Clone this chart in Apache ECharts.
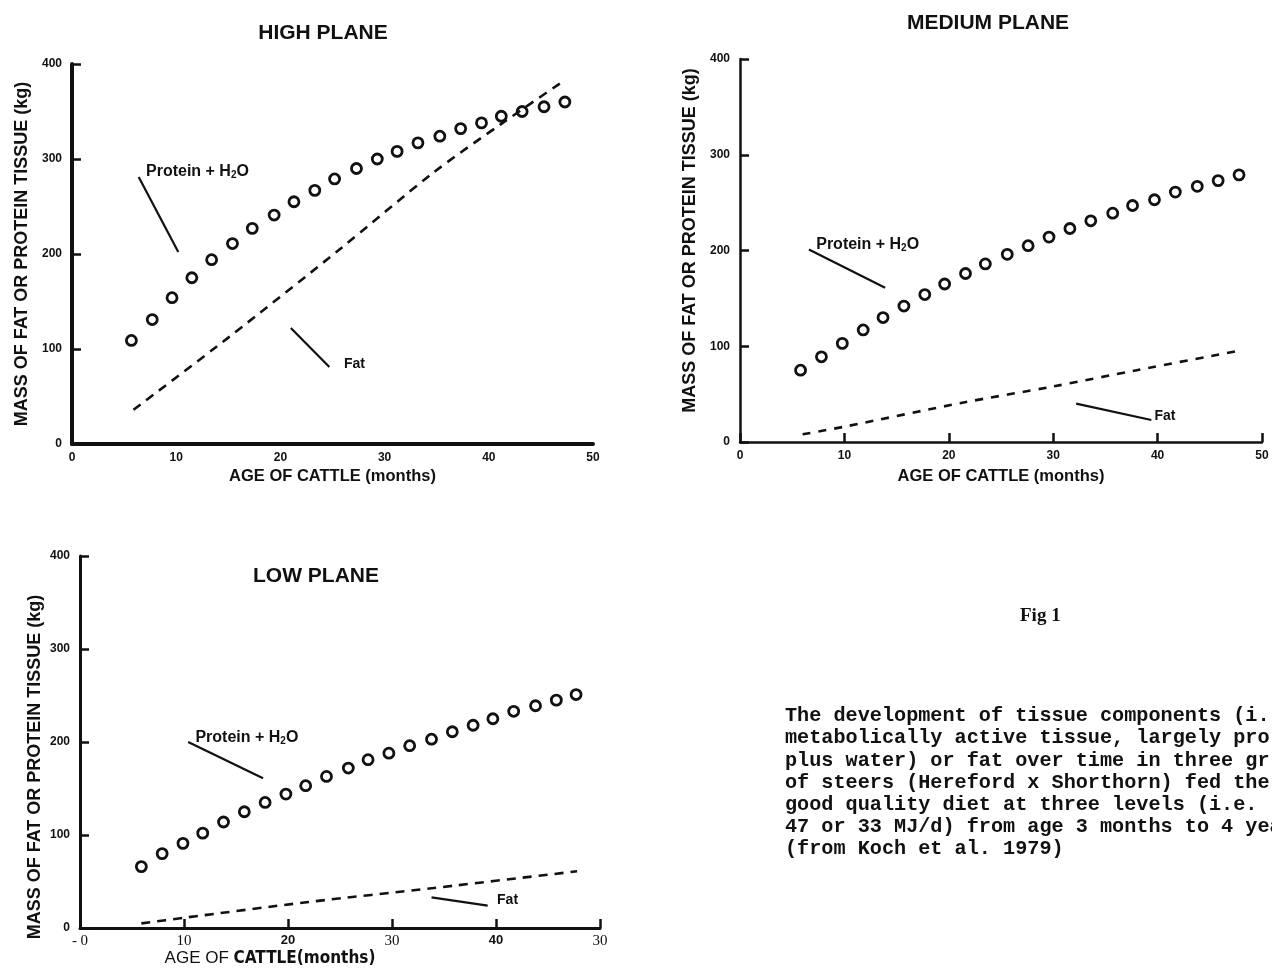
<!DOCTYPE html>
<html>
<head>
<meta charset="utf-8">
<script src="https://cdn.jsdelivr.net/npm/echarts@6/dist/echarts.min.js"></script>
<style>html,body{margin:0;padding:0;background:#fff;}#c{width:1272px;height:971px;}</style>
</head>
<body>
<div id="c"></div>
<script>
// ---- tick labels ----
const xTicks = [0, 10, 20, 30, 40, 50];
const yTicks = [0, 100, 200, 300, 400];
const lowXTickLabels = ['- 0', '10', '20', '30', '40', '30'];
const lowXTickStyle = ['s', 's', 'b', 's', 'b', 's'];

// ---- HIGH PLANE ----
const highProteinX = [5.7, 7.7, 9.6, 11.5, 13.4, 15.4, 17.3, 19.4, 21.3, 23.3, 25.2, 27.3, 29.3, 31.2, 33.2, 35.3, 37.3, 39.3, 41.2, 43.2, 45.3, 47.3];
const highProteinY = [109, 131, 154, 175, 194, 211, 227, 241, 255, 267, 279, 290, 300, 308, 317, 324, 332, 338, 345, 350, 355, 360];
const highFatX = [5.9, 15, 25.7, 34.6, 41.2, 47.3];
const highFatY = [36, 112, 205, 285, 337, 383];

// ---- MEDIUM PLANE ----
const medProteinX = [5.8, 7.8, 9.8, 11.8, 13.7, 15.7, 17.7, 19.6, 21.6, 23.5, 25.6, 27.6, 29.6, 31.6, 33.6, 35.7, 37.6, 39.7, 41.7, 43.8, 45.8, 47.8];
const medProteinY = [75, 89, 103, 117, 130, 142, 154, 165, 176, 186, 196, 205, 214, 223, 231, 239, 247, 253, 261, 267, 273, 279];
const medFatX = [6, 10, 21.3, 30, 38, 47.6];
const medFatY = [8, 16, 41, 58, 75, 95];

// ---- LOW PLANE ----
const lowProteinX = [5.9, 7.9, 9.9, 11.8, 13.8, 15.8, 17.8, 19.8, 21.7, 23.7, 25.8, 27.7, 29.7, 31.7, 33.8, 35.8, 37.8, 39.7, 41.7, 43.8, 45.8, 47.7];
const lowProteinY = [66, 80, 91, 102, 114, 125, 135, 144, 153, 163, 172, 181, 188, 196, 203, 211, 218, 225, 233, 239, 245, 251];
const lowFatX = [5.9, 10, 22, 34, 47.8];
const lowFatY = [5, 11, 28, 43, 61];

// ---- texts ----
const panelTitles = ['HIGH PLANE', 'MEDIUM PLANE', 'LOW PLANE'];
const yName = 'MASS OF FAT OR PROTEIN TISSUE (kg)';
const xName = 'AGE OF CATTLE (months)';
const figLabel = 'Fig 1';
const captionLines = [
  'The development of tissue components (i.',
  'metabolically active tissue, largely pro',
  'plus water) or fat over time in three gr',
  'of steers (Hereford x Shorthorn) fed the',
  'good quality diet at three levels (i.e.',
  '47 or 33 MJ/d) from age 3 months to 4 yea',
  '(from Koch et al. 1979)'
];

// ---- annotations (data coordinates: label anchor, leader start, leader end) ----
const annotations = [
  {g: 0, text: 'protein', at: [7.1, 287], line: [[6.4, 281], [10.2, 202]]},
  {g: 0, text: 'fat', at: [26.1, 84], line: [[21, 122], [24.7, 81]]},
  {g: 1, text: 'protein', at: [7.3, 206], line: [[6.6, 201], [13.9, 161]]},
  {g: 1, text: 'fat', at: [39.7, 27], line: [[32.2, 40], [39.4, 23]]},
  {g: 2, text: 'protein', at: [11.1, 205], line: [[10.4, 200], [17.6, 161]]},
  {g: 2, text: 'fat', at: [40.1, 30], line: [[33.8, 33], [39.2, 24]]}
];

const SANS = "'Liberation Sans', Arial, sans-serif";
const NARROW = "'Liberation Sans Narrow', 'DejaVu Sans Condensed', 'Liberation Sans', sans-serif";
const INK = '#111';

function zip(xs, ys) { return xs.map((x, i) => [x, ys[i]]); }

const grids = [
  {left: 72, top: 64, width: 521, height: 380},
  {left: 740, top: 59, width: 522, height: 383},
  {left: 80, top: 556, width: 520, height: 372}
];
const axisLineW = [4, 2.5, 3];

const xAxes = grids.map((g, i) => ({
  type: 'value', gridIndex: i, min: 0, max: 50, interval: 10,
  name: i === 2 ? '{r|AGE OF }{b|CATTLE(months)}' : xName,
  nameLocation: 'middle', nameGap: i === 2 ? 20 : (i === 0 ? 24 : 26),
  nameTextStyle: {color: INK, fontFamily: SANS, fontWeight: 'bold', fontSize: 16.5,
    padding: i === 2 ? [0, 140, 0, 0] : 0,
    rich: {r: {fontFamily: SANS, fontWeight: 'normal', fontSize: 17, color: INK},
           b: {fontFamily: NARROW, fontWeight: 'bold', fontSize: 17, color: INK}}},
  axisLine: {show: true, onZero: false, lineStyle: {color: INK, width: axisLineW[i]}},
  axisTick: {show: i !== 0, inside: true, length: 9, lineStyle: {color: INK, width: 2.5}},
  splitLine: {show: false},
  axisLabel: i === 2 ? {
    margin: 6, color: INK,
    formatter: (v) => { const k = xTicks.indexOf(v); return '{' + lowXTickStyle[k] + '|' + lowXTickLabels[k] + '}'; },
    rich: {s: {fontFamily: "'Liberation Serif', serif", fontSize: 15, color: INK},
           b: {fontFamily: SANS, fontWeight: 'bold', fontSize: 13, color: INK}}
  } : {margin: 8, color: INK, fontFamily: SANS, fontWeight: 'bold', fontSize: 12}
}));

const yAxes = grids.map((g, i) => ({
  type: 'value', gridIndex: i, min: 0, max: 400, interval: 100,
  name: yName, nameLocation: 'middle', nameGap: i === 2 ? 36 : 41,
  nameTextStyle: {color: INK, fontFamily: SANS, fontWeight: 'bold', fontSize: 18,
    padding: i === 1 ? [0, 0, 0, 20] : (i === 2 ? [0, 50, 0, 0] : 0)},
  axisLine: {show: true, onZero: false, lineStyle: {color: INK, width: axisLineW[i]}},
  axisTick: {show: true, inside: true, length: 9, lineStyle: {color: INK, width: 2.5}},
  splitLine: {show: false},
  axisLabel: {margin: 10, color: INK, fontFamily: SANS, fontWeight: 'bold', fontSize: 12}
}));

const proteinSets = [zip(highProteinX, highProteinY), zip(medProteinX, medProteinY), zip(lowProteinX, lowProteinY)];
const fatSets = [zip(highFatX, highFatY), zip(medFatX, medFatY), zip(lowFatX, lowFatY)];
const dashes = [[9, 7], [8, 8], [9, 7]];

const series = [];
for (let i = 0; i < 3; i++) {
  series.push({
    type: 'scatter', name: 'Protein + H2O', xAxisIndex: i, yAxisIndex: i,
    data: proteinSets[i], symbol: 'circle', symbolSize: 10,
    itemStyle: {color: '#fff', borderColor: INK, borderWidth: 2.8, opacity: 1}
  });
  series.push({
    type: 'line', name: 'Fat', xAxisIndex: i, yAxisIndex: i,
    data: fatSets[i], showSymbol: false, symbol: 'none', smooth: 0.3,
    lineStyle: {color: INK, width: 2.6, type: dashes[i]}
  });
}
annotations.forEach(a => {
  series.push({
    type: 'line', xAxisIndex: a.g, yAxisIndex: a.g, data: a.line,
    symbol: 'none', lineStyle: {color: INK, width: 2.2}
  });
  series.push({
    type: 'scatter', xAxisIndex: a.g, yAxisIndex: a.g, data: [a.at],
    symbolSize: 0, itemStyle: {opacity: 1},
    label: {show: true, position: 'inside', align: 'left', verticalAlign: 'middle',
      formatter: a.text === 'protein' ? 'Protein + H{sub|2}O' : 'Fat',
      color: INK, opacity: 1, fontFamily: SANS, fontWeight: 'bold', fontSize: a.text === 'protein' ? 16 : 14,
      rich: {sub: {fontFamily: SANS, fontWeight: 'bold', fontSize: 10, color: INK, verticalAlign: 'bottom', padding: [7, 0, 0, 0]}}}
  });
});

const titleCenters = [[318, 18], [983, 8], [311, 561]];
const titles = panelTitles.map((t, i) => ({
  text: t, left: titleCenters[i][0], top: titleCenters[i][1], textAlign: 'center',
  textStyle: {color: INK, fontFamily: SANS, fontWeight: 'bold', fontSize: 21}
}));

const graphic = [
  {type: 'text', left: 1020, top: 607, style: {text: figLabel, fill: INK, font: "bold 19px 'Liberation Serif', serif"}},
  {type: 'text', left: 785, top: 705, style: {text: captionLines.join('\n'), fill: INK,
    font: "bold 20.2px 'Liberation Mono', 'DejaVu Sans Mono', monospace", lineHeight: 22.2}}
];

const chart = echarts.init(document.getElementById('c'), null, {renderer: 'canvas'});
chart.setOption({
  backgroundColor: '#fff',
  animation: false,
  title: titles,
  grid: grids,
  xAxis: xAxes,
  yAxis: yAxes,
  series: series,
  graphic: graphic
});
</script>
</body>
</html>
